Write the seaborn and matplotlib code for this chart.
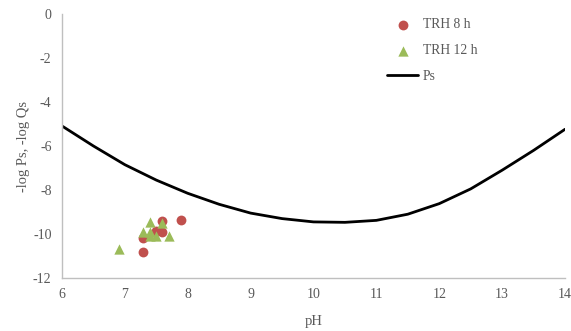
import numpy as np
import pandas as pd
import matplotlib
matplotlib.use("Agg")
import matplotlib.pyplot as plt
import seaborn as sns

# Measured points (pH, -log Qs)
trh8_ph = [7.29, 7.29, 7.59, 7.59, 7.49, 7.89]
trh8_q = [-10.2, -10.83, -9.41, -9.92, -9.85, -9.36]
trh12_ph = [6.91, 7.40, 7.29, 7.40, 7.40, 7.50, 7.59, 7.70]
trh12_q = [-10.7, -9.44, -9.89, -9.89, -10.1, -10.1, -9.52, -10.1]

# Solubility curve Ps
ps_ph = [6, 6.5, 7, 7.5, 8, 8.5, 9, 9.5, 10, 10.5, 11, 11.5, 12, 12.5, 13, 13.5, 14]
ps_val = [-5.09, -6.0, -6.85, -7.55, -8.15, -8.65, -9.05, -9.3, -9.45, -9.47,
          -9.38, -9.1, -8.62, -7.95, -7.1, -6.2, -5.24]

sns.set_style("white")
plt.rcParams['font.family'] = ['Liberation Serif', 'DejaVu Serif']
plt.rcParams['axes.unicode_minus'] = False

fig, ax = plt.subplots(figsize=(5.71, 3.31), dpi=100)
fig.subplots_adjust(left=62/571, right=565/571, top=1-14/331, bottom=1-278/331)

df8 = pd.DataFrame({'pH': trh8_ph, 'q': trh8_q})
df12 = pd.DataFrame({'pH': trh12_ph, 'q': trh12_q})
dps = pd.DataFrame({'pH': ps_ph, 'q': ps_val})

sns.scatterplot(data=df8, x='pH', y='q', color='#C0504D', marker='o', s=50,
                linewidth=0, ax=ax, label='TRH 8 h', zorder=3)
sns.scatterplot(data=df12, x='pH', y='q', color='#9BBB59', marker='^', s=55,
                linewidth=0, ax=ax, label='TRH 12 h', zorder=4)
sns.lineplot(data=dps, x='pH', y='q', color='black', linewidth=2.0, ax=ax,
             label='Ps', zorder=2)

ax.set_xlim(6, 14)
ax.set_ylim(-12, 0)
ax.set_xticks(range(6, 15))
ax.set_yticks(range(-12, 1, 2))
ax.set_xlabel('pH', fontsize=10.5, color='#595959', labelpad=10)
ax.set_ylabel('-log Ps, -log Qs', fontsize=10.5, color='#595959', labelpad=2)

for side in ['top', 'right']:
    ax.spines[side].set_visible(False)
for side in ['left', 'bottom']:
    ax.spines[side].set_color('#BFBFBF')
    ax.spines[side].set_linewidth(1)
ax.tick_params(axis='both', colors='#BFBFBF', labelcolor='#595959',
               labelsize=10, width=1)
ax.tick_params(axis='y', length=4, direction='out')
ax.tick_params(axis='x', length=6, direction='inout', pad=4)

leg = ax.legend(loc='upper left', bbox_to_anchor=(0.622, 1.03), frameon=False,
                fontsize=9.8, handlelength=2.3, labelspacing=0.95,
                handletextpad=0.3)
for t in leg.get_texts():
    t.set_color('#595959')

fig.savefig('out.png', dpi=100)
